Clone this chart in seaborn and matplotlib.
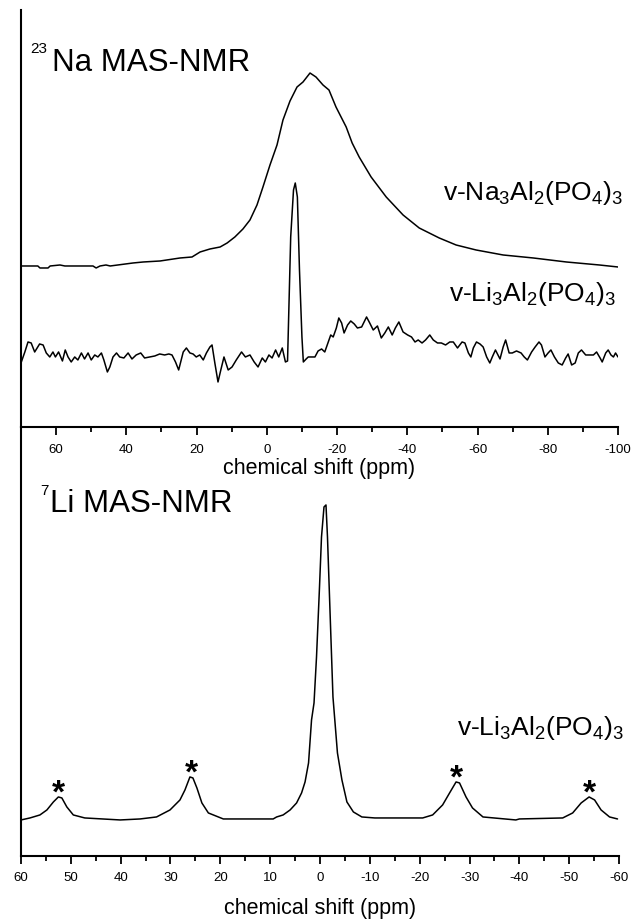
import numpy as np
import pandas as pd
import seaborn as sns
import matplotlib.pyplot as plt
from matplotlib.ticker import MultipleLocator

# 23Na MAS-NMR, v-Na3Al2(PO4)3 (intensity in a.u., stacked as drawn)
na_ppm = [70.0, 65.2, 64.6, 62.3, 61.7, 58.9, 57.5, 49.5, 48.6, 47.5,
          45.8, 44.6, 38.1, 35.2, 30.4, 24.7, 21.3, 19.0, 16.2, 13.3,
          11.3, 9.1, 6.8, 4.8, 2.8, 1.1, -0.9, -2.9, -4.6, -6.6,
          -8.6, -10.3, -12.3, -14.0, -16.0, -17.7, -19.7, -22.6, -24.3, -26.3,
          -29.7, -34.0, -38.8, -43.4, -49.1, -53.9, -59.6, -67.3, -75.9, -85.3,
          -94.7, -100.0]
na_int = [161, 161, 159, 159, 161, 162, 161, 161, 159, 161,
          162, 161, 164, 165, 166, 169, 170, 175, 178, 180,
          184, 190, 198, 207, 222, 240, 262, 282, 307, 326,
          340, 345, 354, 350, 342, 337, 320, 300, 284, 270,
          250, 230, 212, 199, 189, 182, 177, 172, 169, 165,
          162, 160]

# 23Na MAS-NMR, v-Li3Al2(PO4)3
li_na_ppm = [69.9, 68.9, 68.0, 67.1, 66.1, 64.7, 63.7, 62.8, 61.8, 60.9,
             60.2, 59.3, 58.2, 57.4, 56.6, 55.7, 54.7, 53.8, 52.8, 51.9,
             50.9, 50.0, 49.0, 48.1, 47.1, 46.4, 45.4, 44.7, 43.8, 42.8,
             41.9, 40.7, 39.5, 38.4, 37.2, 35.9, 34.8, 33.3, 31.9, 30.5,
             29.1, 27.9, 27.0, 26.0, 25.1, 23.8, 22.9, 21.9, 21.0, 20.1,
             19.1, 18.1, 17.2, 16.2, 15.6, 14.8, 13.9, 13.1, 12.2, 11.0,
             9.9, 8.7, 7.2, 6.1, 4.8, 3.6, 2.5, 1.3, 0.4, -0.6,
             -1.5, -2.5, -3.4, -4.4, -5.3, -5.9, -6.8, -7.6, -8.1, -8.7,
             -9.3, -10.0, -10.4, -11.2, -11.8, -13.7, -14.6, -15.6, -16.5, -17.5,
             -18.2, -18.9, -19.8, -20.5, -21.3, -22.0, -23.0, -23.9, -24.9, -25.8,
             -27.0, -28.4, -29.3, -30.3, -31.5, -32.6, -33.6, -34.6, -35.7, -36.6,
             -37.6, -38.8, -40.1, -41.2, -42.2, -43.1, -44.2, -45.2, -46.4, -47.4,
             -48.6, -49.7, -50.9, -52.1, -53.1, -54.3, -55.6, -56.4, -57.4, -58.1,
             -58.8, -59.7, -60.7, -61.6, -62.6, -63.5, -64.2, -65.1, -66.4, -67.3,
             -68.0, -69.0, -69.9, -71.1, -72.4, -73.3, -74.2, -75.4, -76.4, -77.5,
             -78.2, -79.2, -80.1, -80.9, -81.9, -83.0, -84.1, -85.1, -85.8, -86.8,
             -87.8, -88.7, -89.6, -90.8, -92.0, -93.0, -93.9, -94.9, -95.5, -96.5,
             -97.2, -98.0, -98.7, -99.3, -100.0]
li_na_int = [65, 75, 85, 84, 75, 83, 82, 74, 70, 75,
             70, 75, 66, 77, 70, 65, 70, 67, 74, 68,
             74, 67, 72, 70, 74, 67, 55, 60, 70, 74,
             70, 69, 74, 68, 72, 74, 69, 70, 71, 73,
             72, 73, 72, 65, 57, 75, 79, 74, 73, 70,
             72, 67, 74, 80, 82, 64, 45, 57, 70, 57,
             60, 67, 75, 70, 72, 65, 60, 69, 65, 72,
             69, 77, 70, 79, 65, 66, 190, 237, 244, 230,
             157, 90, 65, 68, 70, 70, 76, 78, 75, 85,
             92, 90, 99, 109, 104, 94, 102, 106, 103, 99,
             100, 110, 104, 97, 101, 89, 94, 100, 92, 99,
             105, 95, 92, 90, 85, 87, 84, 87, 92, 87,
             84, 84, 82, 85, 85, 79, 85, 84, 74, 70,
             79, 85, 83, 80, 70, 64, 70, 77, 68, 80,
             87, 74, 74, 76, 74, 70, 67, 75, 80, 85,
             82, 70, 74, 77, 70, 64, 62, 69, 73, 62,
             64, 74, 77, 72, 72, 72, 75, 69, 65, 74,
             77, 72, 70, 74, 70]

# 7Li MAS-NMR, v-Li3Al2(PO4)3
li_ppm = [60.0, 58.2, 56.2, 54.8, 53.5, 52.5, 51.8, 50.8, 49.5, 47.2,
          40.1, 36.1, 32.8, 30.1, 28.1, 27.1, 26.1, 25.5, 24.7, 23.7,
          22.4, 19.4, 14.0, 9.4, 8.7, 7.4, 6.0, 4.7, 3.7, 3.0,
          2.3, 1.7, 1.2, 0.7, 0.1, -0.3, -0.8, -1.2, -1.5, -2.0,
          -2.6, -3.5, -4.4, -5.4, -6.7, -8.4, -11.0, -20.6, -22.6, -24.6,
          -26.0, -27.3, -28.0, -29.3, -30.6, -32.7, -39.3, -40.0, -48.7, -50.7,
          -52.4, -54.0, -55.1, -56.4, -58.1, -59.7]
li_int = [36, 38, 41, 46, 54, 59, 58, 49, 41, 38,
          36, 37, 39, 46, 56, 66, 79, 78, 68, 53,
          43, 37, 37, 37, 39, 41, 46, 53, 63, 74,
          93, 136, 153, 199, 269, 319, 349, 351, 319, 246,
          159, 103, 76, 54, 44, 39, 38, 38, 41, 51,
          63, 74, 73, 59, 48, 39, 36, 37, 38, 43,
          53, 59, 56, 46, 39, 37]

# spinning sidebands marked with *
sideband_ppm = [52.5, 25.9, -27.3, -54.1]
sideband_int = [59, 79, 74, 59]

sns.set_theme(style="ticks")
plt.rcParams['font.family'] = ['Liberation Sans', 'DejaVu Sans']
plt.rcParams['mathtext.fontset'] = 'custom'
plt.rcParams['mathtext.rm'] = 'Liberation Sans'
plt.rcParams['mathtext.it'] = 'Liberation Sans:italic'
plt.rcParams['mathtext.bf'] = 'Liberation Sans:bold'
plt.rcParams['axes.unicode_minus'] = False
plt.rcParams['text.color'] = 'black'

fig = plt.figure(figsize=(6.36, 9.19), dpi=100)
ax1 = fig.add_axes([0.033, 0.5354, 0.9387, 0.4537])
ax2 = fig.add_axes([0.033, 0.0686, 0.9403, 0.4668])
ax2.patch.set_visible(False)

top = pd.DataFrame({'ppm': na_ppm, 'I': na_int})
top_li = pd.DataFrame({'ppm': li_na_ppm, 'I': li_na_int})
bot = pd.DataFrame({'ppm': li_ppm, 'I': li_int})

sns.lineplot(data=top, x='ppm', y='I', ax=ax1, color='black', lw=1.1, estimator=None, sort=False)
sns.lineplot(data=top_li, x='ppm', y='I', ax=ax1, color='black', lw=1.1, estimator=None, sort=False)
sns.lineplot(data=bot, x='ppm', y='I', ax=ax2, color='black', lw=1.1, estimator=None, sort=False)

for p, h in zip(sideband_ppm, sideband_int):
    ax2.annotate('*', xy=(p, h), xytext=(0, -4), textcoords='offset points',
                 ha='center', va='baseline', fontsize=24, fontweight='bold', color='black')

ax1.set_xlim(70, -100)
ax1.set_ylim(0, 417)
ax2.set_xlim(60, -60)
ax2.set_ylim(0, 429)

for ax, major, minor, pad, lpad in [(ax1, 20, 10, 6.5, 1), (ax2, 10, 5, 5.5, 10)]:
    sns.despine(ax=ax)
    ax.set_yticks([])
    ax.set_ylabel('')
    ax.xaxis.set_major_locator(MultipleLocator(major))
    ax.xaxis.set_minor_locator(MultipleLocator(minor))
    ax.tick_params(axis='x', which='major', length=6, width=1.3, direction='out',
                   labelsize=9.5, pad=pad, color='black', labelcolor='black')
    ax.tick_params(axis='x', which='minor', length=3.6, width=1.3, direction='out', color='black')
    for s in ['left', 'bottom']:
        ax.spines[s].set_linewidth(1.5)
        ax.spines[s].set_color('black')
    ax.set_xlabel('chemical shift (ppm)', fontsize=15.5, labelpad=lpad, color='black')

# panel titles
fig.text(0.047, 0.9423, '23', fontsize=11, ha='left', va='baseline')
fig.text(0.0818, 0.9227, 'Na MAS-NMR', fontsize=22.5, ha='left', va='baseline')
fig.text(0.0629, 0.4614, '7', fontsize=11, ha='left', va='baseline')
fig.text(0.0786, 0.4432, 'Li MAS-NMR', fontsize=22.5, ha='left', va='baseline')

# sample labels
fig.text(0.9796, 0.7829, r'v-Na$_3$Al$_2$(PO$_4$)$_3$', fontsize=19, ha='right', va='baseline')
fig.text(0.9686, 0.6725, r'v-Li$_3$Al$_2$(PO$_4$)$_3$', fontsize=19, ha='right', va='baseline')
fig.text(0.981, 0.2002, r'v-Li$_3$Al$_2$(PO$_4$)$_3$', fontsize=19, ha='right', va='baseline')

fig.savefig('out.png', dpi=100, facecolor='white')
